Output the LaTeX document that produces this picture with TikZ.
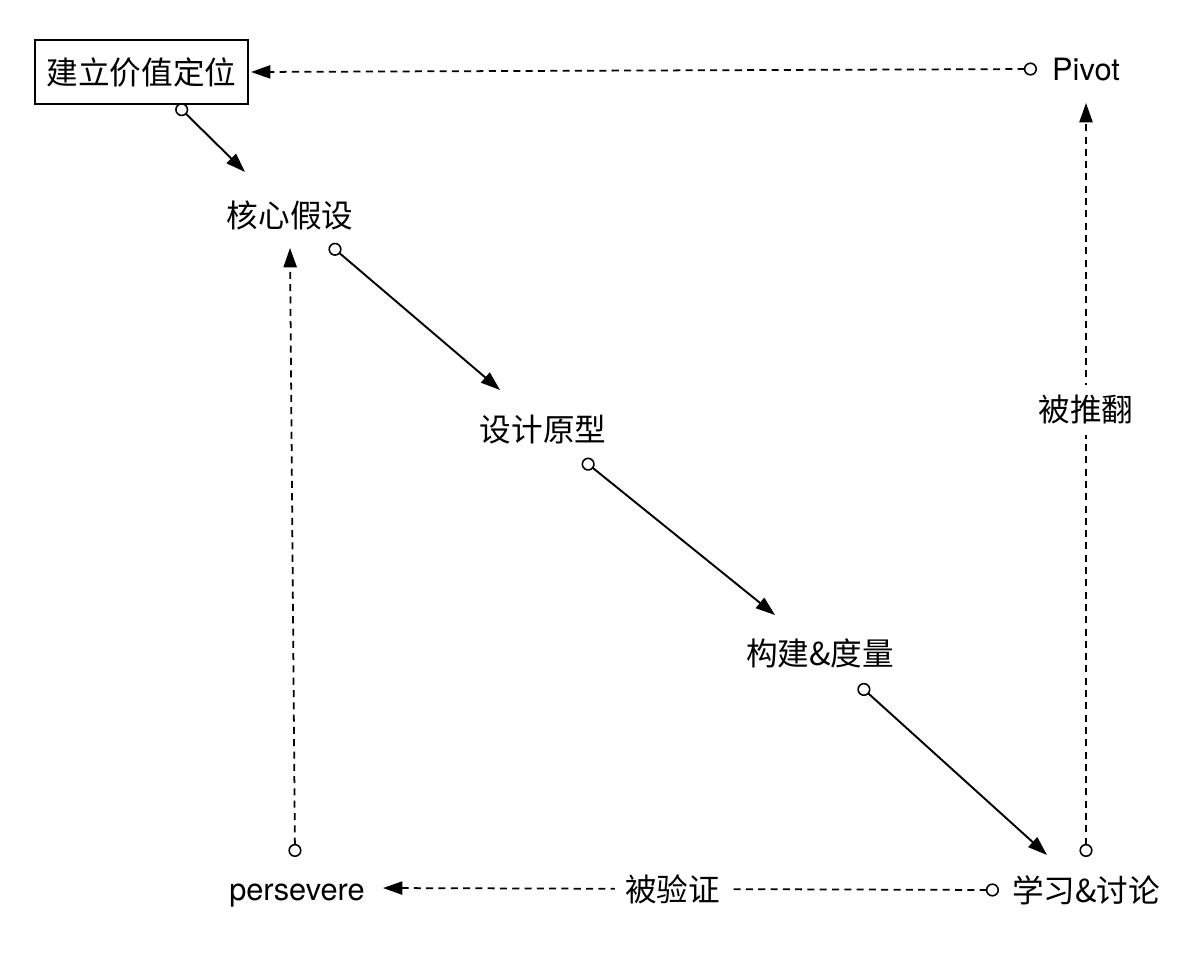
\documentclass[tikz,border=0pt]{standalone}
\usepackage{fontspec}
\setmainfont{TeX Gyre Heros}
\newfontfamily\cjk{Noto Sans CJK SC}
\usetikzlibrary{
    arrows.meta,
    positioning
}

\begin{document}
\begin{tikzpicture}[x=0.02cm, y=-0.02cm,
        txt/.style={font=\cjk\fontsize{18}{20}\selectfont, inner sep=2pt},
        lat/.style={font=\fontsize{17.5}{20}\selectfont, inner sep=2pt},
        flow/.style={line width=1.1pt,
            {Circle[open, length=7.5pt, line width=0.9pt]}-{Triangle[length=11pt, width=7.5pt]}},
        back/.style={flow, line width=1pt, dash pattern=on 4pt off 3pt},
        tag/.style={txt, fill=white, inner sep=6pt}]
                                \useasboundingbox (0, 0) rectangle (1192, 960);
                                \node[txt, draw, line width=1.2pt, minimum width=4.26cm, minimum height=1.28cm] (jl) at (141.5, 72) {建立价值定位};
                                \node[lat] (pv) at (1086, 70) {Pivot};
                                \node[txt] (hx) at (290, 215) {核心假设};
                                \node[txt] (sj) at (543, 430) {设计原型};
                                \node[txt] (gj) at (820, 653) {构建\&度量};
                                \node[txt] (xx) at (1086, 890) {学习\&讨论};
                                \node[lat, anchor=base] (ps) at (297, 900) {persevere};
                                \path
                                ([shift={(35.5, 33)}]jl.center) edge[flow] ([shift={(-45, -43)}]hx.center)
                                ([shift={(40, 30)}]hx.center) edge[flow] ([shift={(-43, -40)}]sj.center)
                                ([shift={(40, 30)}]sj.center) edge[flow] ([shift={(-45, -38)}]gj.center)
                                ([shift={(39, 32)}]gj.center) edge[flow] ([shift={(-39, -35)}]xx.center);
                                \draw[back] ([shift={(-87, 0)}]xx.center) -- node[tag, pos=0.53] {被验证} ([shift={(86, -12)}]ps.base);
                                \draw[back] ([shift={(0, -33)}]xx.center) -- node[tag, pos=0.593] {被推翻} ([shift={(0, 33)}]pv.center);
                                \draw[back] ([shift={(-49, -1)}]pv.center) -- ([shift={(2, 0)}]jl.east);
                                \draw[back] ([shift={(-2, -43)}]ps.base) -- ([shift={(0, 33)}]hx.center);
                            \end{tikzpicture}
\end{document}
